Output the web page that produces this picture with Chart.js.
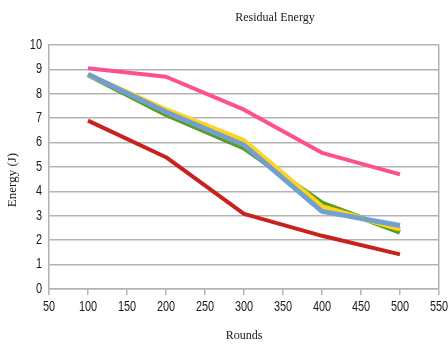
<!DOCTYPE html>
<html>
<head>
<meta charset="utf-8">
<script src="https://cdn.jsdelivr.net/npm/chart.js@4/dist/chart.umd.min.js"></script>
<style>
  html, body { margin: 0; padding: 0; background: #fff; }
  #wrap { width: 448px; height: 344px; position: relative; }
</style>
</head>
<body>
<div id="wrap"><canvas id="c" width="448" height="344"></canvas></div>
<script>
// Rounds on the x axis
const rounds = [100, 200, 300, 400, 500];

// Residual energy (J) per protocol series
const seriesPink   = [9.05, 8.7, 7.35, 5.58, 4.7];
const seriesRed    = [6.9, 5.4, 3.08, 2.18, 1.42];
const seriesGreen  = [8.78, 7.15, 5.78, 3.52, 2.33];
const seriesYellow = [8.78, 7.35, 6.08, 3.37, 2.45];
const seriesBlue   = [8.8, 7.25, 5.9, 3.18, 2.6];

const toPoints = vals => rounds.map((r, i) => ({ x: r, y: vals[i] }));

const gridGray = '#b3b3b3';
const textColor = '#1a1a1a';
const hidden = 'rgba(0,0,0,0)';
const tickFontCss = '14px "Liberation Sans", Arial, sans-serif';
const serifFont = { family: '"Liberation Serif", serif', size: 12 };

// Titles plus condensed tick labels, positioned from the chart's own scales
const labelsPlugin = {
  id: 'titles',
  afterDraw(chart) {
    const ctx = chart.ctx;
    const xs = chart.scales.x, ys = chart.scales.y;
    ctx.save();
    ctx.fillStyle = textColor;
    ctx.textBaseline = 'middle';

    ctx.font = tickFontCss;
    ctx.textAlign = 'center';
    xs.ticks.forEach(t => {
      ctx.save();
      ctx.translate(xs.getPixelForValue(t.value), 307);
      ctx.scale(0.78, 1);
      ctx.fillText(String(t.value), 0, 0);
      ctx.restore();
    });
    ctx.textAlign = 'right';
    ys.ticks.forEach(t => {
      ctx.save();
      ctx.translate(ys.left + ys.width - 7, ys.getPixelForValue(t.value));
      ctx.scale(0.78, 1);
      ctx.fillText(String(t.value), 0, 0);
      ctx.restore();
    });

    ctx.textAlign = 'center';
    ctx.font = '12px "Liberation Serif", serif';
    ctx.fillText('Residual Energy', 275, 18);
    ctx.translate(13, 180);
    ctx.rotate(-Math.PI / 2);
    ctx.font = '13px "Liberation Serif", serif';
    ctx.fillText('Energy (J)', 0, 0);
    ctx.restore();
  }
};

// lower "order" is painted on top
const mkSet = (data, color, w, order) => ({
  data: toPoints(data),
  borderColor: color,
  backgroundColor: color,
  borderWidth: w,
  pointRadius: 0,
  tension: 0,
  fill: false,
  order: order,
  borderCapStyle: 'butt',
  borderJoinStyle: 'round'
});

new Chart(document.getElementById('c'), {
  type: 'line',
  data: {
    datasets: [
      mkSet(seriesPink, '#ff4f91', 4, 5),
      mkSet(seriesRed, '#c9211e', 4, 4),
      mkSet(seriesGreen, '#579d1c', 5, 3),
      mkSet(seriesYellow, '#ffd320', 5, 2),
      mkSet(seriesBlue, '#729fcf', 5, 1)
    ]
  },
  plugins: [labelsPlugin],
  options: {
    responsive: false,
    animation: false,
    layout: { padding: { top: 45, right: 9, left: 0, bottom: 0 } },
    plugins: { legend: { display: false }, tooltip: { enabled: false } },
    scales: {
      x: {
        type: 'linear',
        min: 50, max: 550,
        afterFit: s => { s.height = 55; s.paddingLeft = 0; s.paddingRight = 0; },
        ticks: { stepSize: 50, color: hidden, padding: 7, maxRotation: 0, autoSkip: false },
        grid: {
          color: ctx => (ctx.tick && ctx.tick.value === 550) ? gridGray : hidden,
          tickColor: gridGray,
          tickLength: 6,
          lineWidth: 1.5
        },
        border: { color: gridGray, width: 1.5 },
        title: { display: true, text: 'Rounds', color: textColor, font: serifFont, padding: { top: 0, bottom: 1 } }
      },
      y: {
        min: 0, max: 10,
        afterFit: s => { s.width = 49; },
        ticks: { stepSize: 1, color: hidden, padding: 7 },
        grid: { color: gridGray, lineWidth: 1.5, drawTicks: false },
        border: { color: gridGray, width: 1.5 }
      }
    }
  }
});
</script>
</body>
</html>
